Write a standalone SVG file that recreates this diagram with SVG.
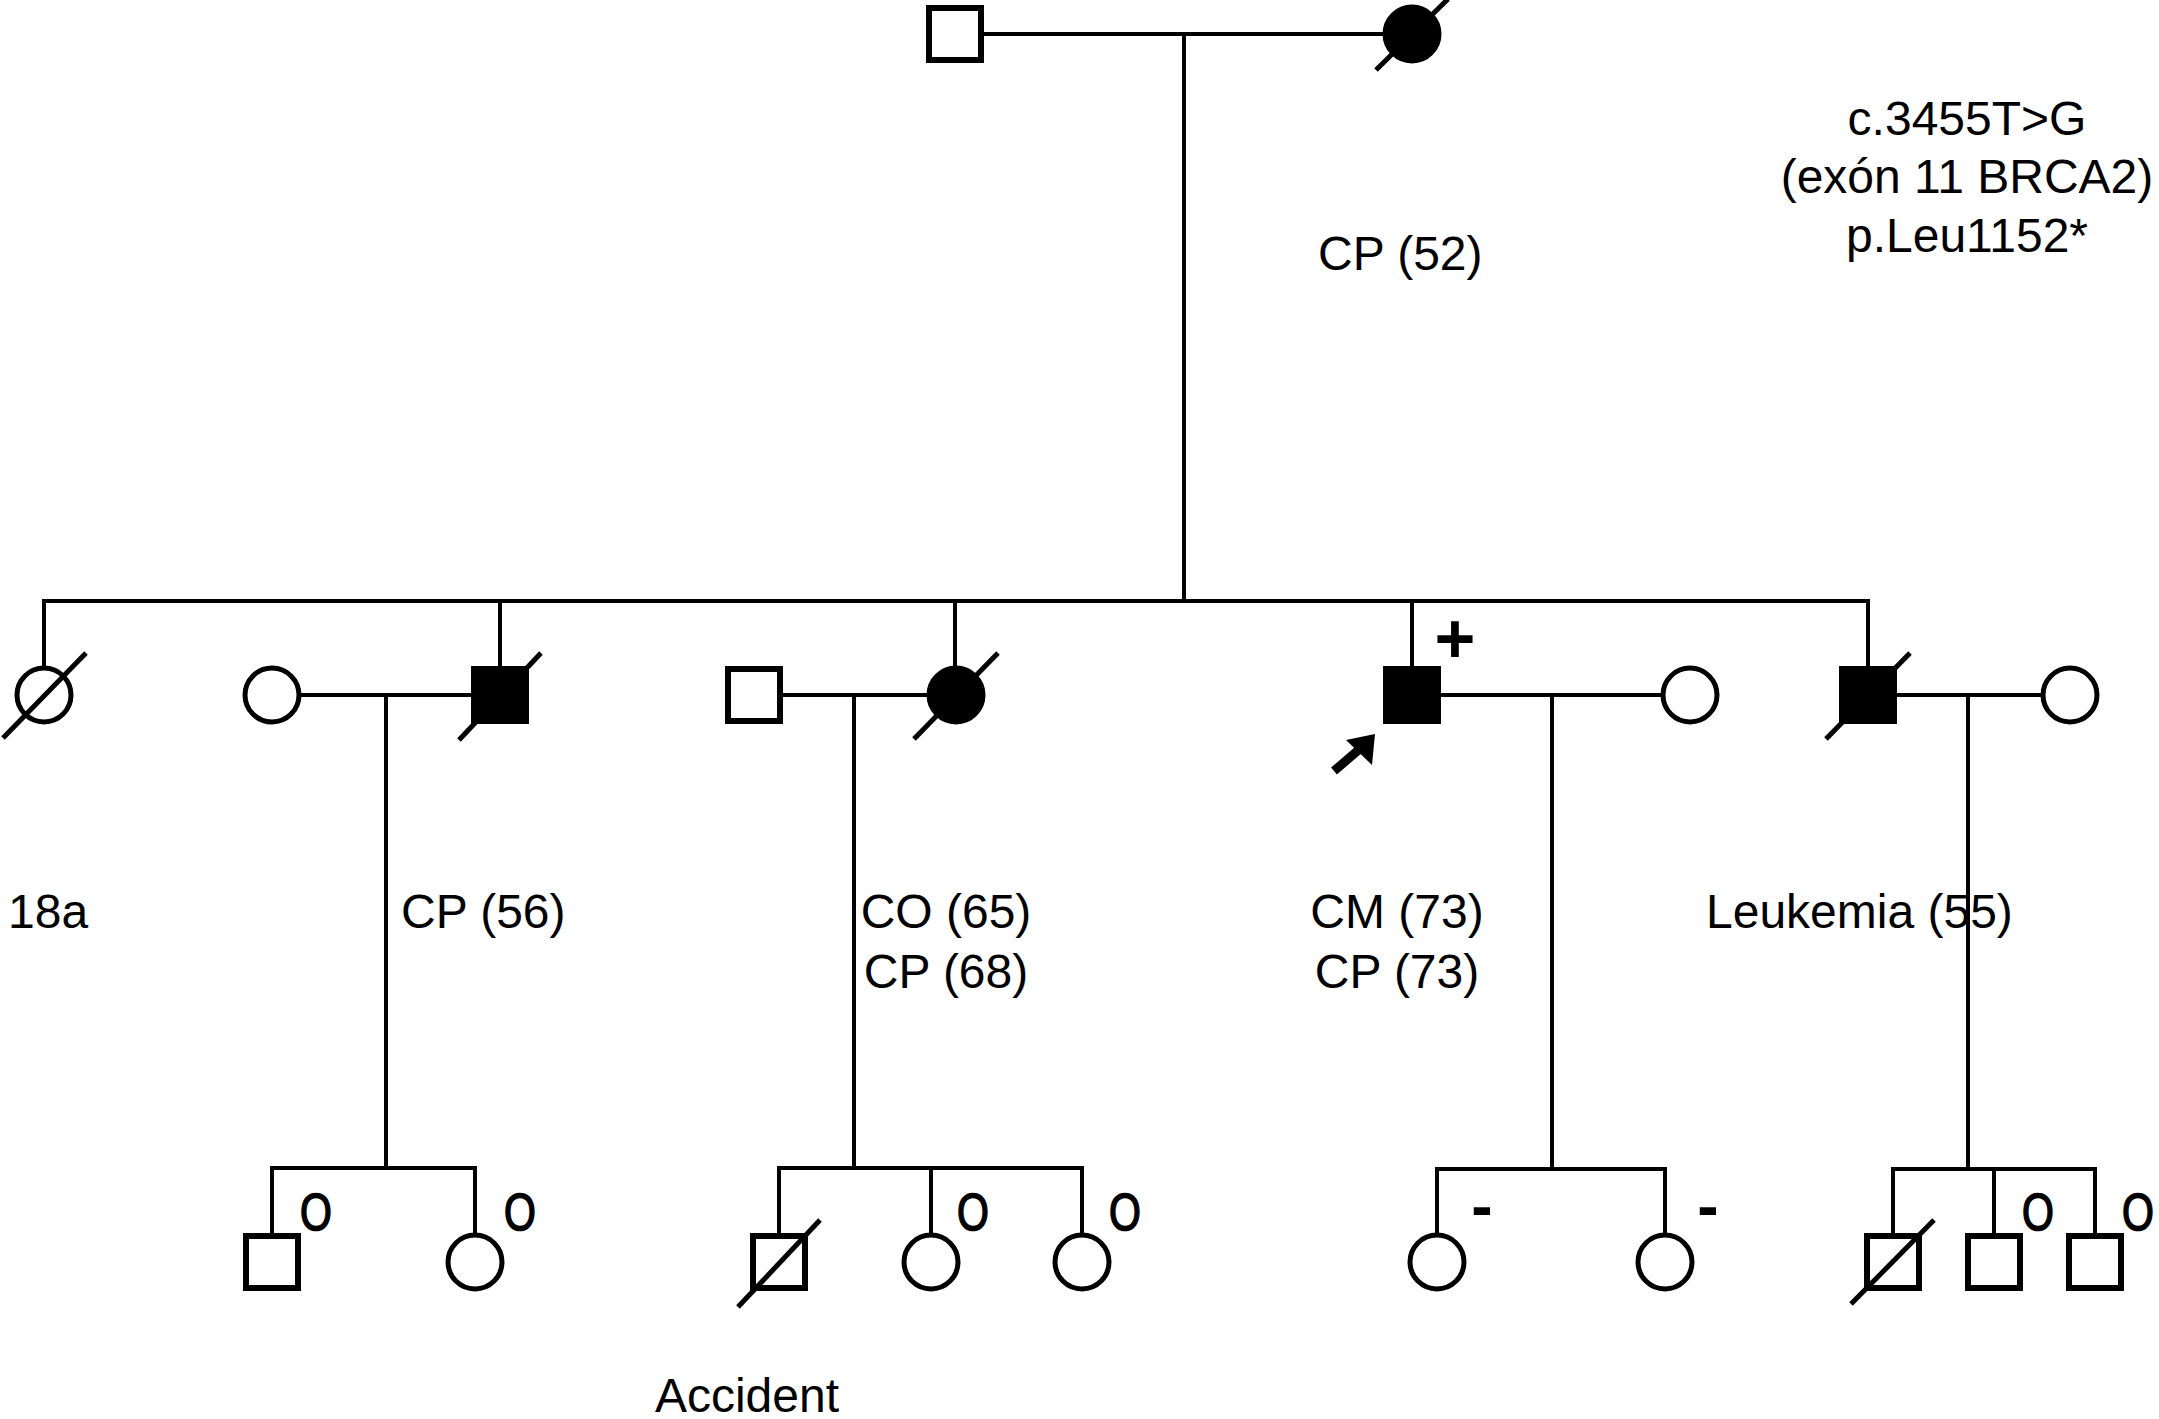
<svg xmlns="http://www.w3.org/2000/svg" width="2159" height="1419" viewBox="0 0 2159 1419">
<style>
.ln{stroke:#000;stroke-width:4;fill:none}
.sq{fill:#fff;stroke:#000;stroke-width:6}
.ci{fill:#fff;stroke:#000;stroke-width:5}
.aff{fill:#000}
.sl{stroke:#000;stroke-width:5;stroke-linecap:butt}
text{font-family:"Liberation Sans",Arial,Helvetica,sans-serif;font-size:48px;fill:#000}
.mk{font-size:50px;text-anchor:middle;stroke:#000;stroke-width:1.6}
.sg{font-weight:bold;font-size:70px}
.mn{font-weight:bold;font-size:64px}
</style>
<rect width="2159" height="1419" fill="#fff"/>
<g id="connectors">
<path class="ln" d="M984 34 H1385 M1184 34 V601"/>
<path class="ln" d="M44 667 V601 H1868 V666 M500 601 V666 M955 601 V666 M1412 601 V666"/>
<path class="ln" d="M300 695 H471 M386 695 V1168 M783 695 H928 M854 695 V1168 M1441 695 H1662 M1552 695 V1169 M1897 695 H2042 M1968 695 V1169"/>
<path class="ln" d="M272 1233 V1168 H475 V1233"/>
<path class="ln" d="M779 1233 V1168 H1082 V1233 M931 1168 V1233"/>
<path class="ln" d="M1437 1233 V1169 H1665 V1233"/>
<path class="ln" d="M1893 1233 V1169 H2095 V1233 M1994 1169 V1233"/>
</g>
<g id="I-1"><rect class="sq" x="929" y="8" width="52" height="52"/></g>
<g id="I-2"><circle class="ci aff" cx="1412" cy="34" r="27"/><line class="sl" x1="1376" y1="70" x2="1448" y2="-1"/>
<text x="1318" y="270">CP (52)</text></g>
<g id="mutation" text-anchor="middle"><text x="1967" y="135">c.3455T&gt;G</text><text x="1967" y="193">(exón 11 BRCA2)</text><text x="1967" y="252">p.Leu1152*</text></g>
<g id="II-1"><circle class="ci" cx="44" cy="695" r="27"/><line class="sl" x1="3" y1="738" x2="86" y2="653"/><text x="8" y="928">18a</text></g>
<g id="II-2"><circle class="ci" cx="272" cy="695" r="27"/></g>
<g id="II-3"><rect class="sq aff" x="474" y="669" width="52" height="52"/><line class="sl" x1="459" y1="740" x2="541" y2="653"/><text x="401" y="928">CP (56)</text></g>
<g id="II-4"><rect class="sq" x="728" y="669" width="52" height="52"/></g>
<g id="II-5"><circle class="ci aff" cx="956" cy="695" r="27"/><line class="sl" x1="914" y1="739" x2="998" y2="653"/><text x="946" y="928" text-anchor="middle">CO (65)</text><text x="946" y="988" text-anchor="middle">CP (68)</text></g>
<g id="II-6"><rect class="sq aff" x="1386" y="669" width="52" height="52"/><text class="sg" x="1455" y="663" text-anchor="middle">+</text>
<line x1="1334" y1="771" x2="1362" y2="747" stroke="#000" stroke-width="9"/><polygon points="1375,734 1346,740 1372,765" fill="#000"/>
<text x="1397" y="928" text-anchor="middle">CM (73)</text><text x="1397" y="988" text-anchor="middle">CP (73)</text></g>
<g id="II-7"><circle class="ci" cx="1690" cy="695" r="27"/></g>
<g id="II-8"><rect class="sq aff" x="1842" y="669" width="52" height="52"/><line class="sl" x1="1826" y1="739" x2="1910" y2="653"/><text x="1706" y="928">Leukemia (55)</text></g>
<g id="II-9"><circle class="ci" cx="2070" cy="695" r="27"/></g>
<g id="III-1"><rect class="sq" x="246" y="1236" width="52" height="52"/><text class="mk" transform="translate(316 1230) scale(0.82 1.03)">O</text></g>
<g id="III-2"><circle class="ci" cx="475" cy="1262" r="27"/><text class="mk" transform="translate(520 1230) scale(0.82 1.03)">O</text></g>
<g id="III-3"><rect class="sq" x="753" y="1236" width="52" height="52"/><line class="sl" x1="738" y1="1307" x2="820" y2="1220"/><text x="747" y="1412" text-anchor="middle">Accident</text></g>
<g id="III-4"><circle class="ci" cx="931" cy="1262" r="27"/><text class="mk" transform="translate(973 1230) scale(0.82 1.03)">O</text></g>
<g id="III-5"><circle class="ci" cx="1082" cy="1262" r="27"/><text class="mk" transform="translate(1125 1230) scale(0.82 1.03)">O</text></g>
<g id="III-6"><circle class="ci" cx="1437" cy="1262" r="27"/><text class="mn" x="1482" y="1228" text-anchor="middle">-</text></g>
<g id="III-7"><circle class="ci" cx="1665" cy="1262" r="27"/><text class="mn" x="1708" y="1228" text-anchor="middle">-</text></g>
<g id="III-8"><rect class="sq" x="1867" y="1236" width="52" height="52"/><line class="sl" x1="1851" y1="1304" x2="1934" y2="1220"/></g>
<g id="III-9"><rect class="sq" x="1968" y="1236" width="52" height="52"/><text class="mk" transform="translate(2038 1230) scale(0.82 1.03)">O</text></g>
<g id="III-10"><rect class="sq" x="2069" y="1236" width="52" height="52"/><text class="mk" transform="translate(2138 1230) scale(0.82 1.03)">O</text></g>
</svg>
